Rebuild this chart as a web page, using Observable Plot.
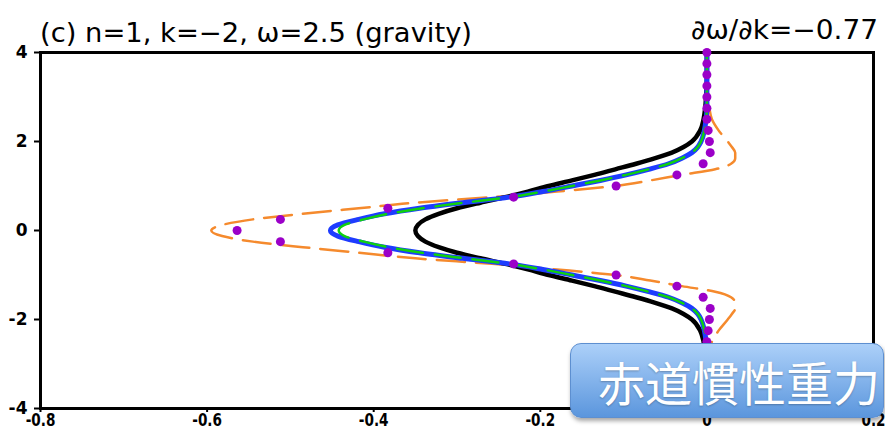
<!DOCTYPE html>
<html><head><meta charset="utf-8">
<script src="https://cdn.jsdelivr.net/npm/d3@7"></script>
<script src="https://cdn.jsdelivr.net/npm/@observablehq/plot@0.6"></script>
<style>
body{margin:0;background:#fff;}
#wrap{position:relative;width:885px;height:441px;overflow:hidden;}
#badge{position:absolute;left:570px;top:343px;width:314px;height:75px;box-sizing:border-box;border-radius:11px;border:1px solid #5d8fd0;background:linear-gradient(#acd0f9,#5b96dd);box-shadow:1px 3px 4px rgba(0,0,0,0.35);color:#fff;font-family:"Noto Sans CJK JP";font-size:47px;line-height:73px;padding-left:27px;white-space:nowrap;text-shadow:0 1px 2px rgba(0,0,0,0.25);}
</style></head><body><div id="wrap"></div>
<script>
const titleLeft = "(c) n=1, k=\u22122, \u03c9=2.5 (gravity)";
const titleRight = "\u2202\u03c9/\u2202k=\u22120.77";
const badgeText = "赤道慣性重力";
const xTicks = [-0.8, -0.6, -0.4, -0.2, 0, 0.2];
const yTicks = [-4, -2, 0, 2, 4];

const yGrid = [-4,-3.5,-3,-2.75,-2.5,-2.25,-2,-1.875,-1.75,-1.625,-1.5,-1.375,-1.25,-1.125,-1,-0.875,-0.75,-0.625,-0.5,-0.375,-0.25,-0.125,0,0.125,0.25,0.375,0.5,0.625,0.75,0.875,1,1.125,1.25,1.375,1.5,1.625,1.75,1.875,2,2.25,2.5,2.75,3,3.5,4];
const blackX = [0,0,-0.001,-0.002,-0.004,-0.008,-0.018,-0.028,-0.042,-0.062,-0.085,-0.110,-0.135,-0.162,-0.190,-0.215,-0.242,-0.272,-0.300,-0.322,-0.338,-0.347,-0.350,-0.347,-0.338,-0.322,-0.300,-0.272,-0.242,-0.215,-0.190,-0.162,-0.135,-0.110,-0.085,-0.062,-0.042,-0.028,-0.018,-0.008,-0.004,-0.002,-0.001,0,0];
const blueX = [0,0,0,0,-0.001,-0.003,-0.007,-0.011,-0.018,-0.030,-0.046,-0.070,-0.097,-0.128,-0.162,-0.197,-0.237,-0.293,-0.345,-0.387,-0.418,-0.443,-0.452,-0.443,-0.418,-0.387,-0.345,-0.293,-0.237,-0.197,-0.162,-0.128,-0.097,-0.070,-0.046,-0.030,-0.018,-0.011,-0.007,-0.003,-0.001,0,0,0,0];
const greenX = [0,0,0,0,-0.001,-0.003,-0.007,-0.011,-0.018,-0.030,-0.046,-0.070,-0.097,-0.128,-0.162,-0.197,-0.237,-0.291,-0.342,-0.382,-0.412,-0.435,-0.442,-0.435,-0.412,-0.382,-0.342,-0.291,-0.237,-0.197,-0.162,-0.128,-0.097,-0.070,-0.046,-0.030,-0.018,-0.011,-0.007,-0.003,-0.001,0,0,0,0];
const orangeX = [0,0,0.001,0.003,0.006,0.014,0.025,0.030,0.034,0.034,0.029,0.010,-0.030,-0.068,-0.110,-0.180,-0.258,-0.350,-0.418,-0.485,-0.545,-0.582,-0.595,-0.582,-0.545,-0.485,-0.418,-0.350,-0.258,-0.180,-0.110,-0.068,-0.030,0.010,0.029,0.034,0.034,0.030,0.025,0.014,0.006,0.003,0.001,0,0];
const dotY = [-4,-3.75,-3.5,-3.25,-3,-2.75,-2.5,-2.25,-2,-1.75,-1.5,-1.25,-1,-0.75,-0.5,-0.25,0,0.25,0.5,0.75,1,1.25,1.5,1.75,2,2.25,2.5,2.75,3,3.25,3.5,3.75,4];
const dotX = [0,0,0,0,0,0,0,0.0015,0.003,0.004,-0.0045,-0.036,-0.109,-0.232,-0.383,-0.512,-0.564,-0.512,-0.383,-0.232,-0.109,-0.036,-0.0045,0.004,0.003,0.0015,0,0,0,0,0,0,0];

const toRows = (xs, ys) => ys.map((y, i) => ({x: xs[i], y}));
const fmt = d => (d < 0 ? "-" : "") + Math.abs(d);

const chart = Plot.plot({
  width: 885, height: 441,
  marginLeft: 40, marginRight: 12, marginTop: 52, marginBottom: 33,
  style: {fontFamily: "DejaVu Sans", fontSize: "16px", fontWeight: "bold", background: "white", overflow: "visible"},
  x: {domain: [-0.8, 0.2], label: null},
  y: {domain: [-4, 4], label: null},
  marks: [
    Plot.axisX({ticks: xTicks, tickSize: 4, tickPadding: 1, tickFormat: fmt, strokeWidth: 2, fontSize: 16, fontWeight: "bold", fill: "black", label: null}),
    Plot.axisY({ticks: yTicks, tickSize: 6, tickPadding: 7, tickFormat: fmt, strokeWidth: 2, fontSize: 16, fontWeight: "bold", fill: "black", label: null}),
    Plot.frame({strokeWidth: 3, stroke: "black"}),
    Plot.line(toRows(orangeX, yGrid), {x: "x", y: "y", stroke: "#f58a2d", strokeWidth: 2.5, strokeDasharray: "28,11", curve: "monotone-y"}),
    Plot.line(toRows(blackX, yGrid), {x: "x", y: "y", stroke: "black", strokeWidth: 4.5, curve: "monotone-y"}),
    Plot.line(toRows(blueX, yGrid), {x: "x", y: "y", stroke: "#1e3cff", strokeWidth: 5, curve: "monotone-y"}),
    Plot.line(toRows(greenX, yGrid), {x: "x", y: "y", stroke: "#10d010", strokeWidth: 2.5, strokeDasharray: "26,12", curve: "monotone-y"}),
    Plot.dot(toRows(dotX, dotY), {x: "x", y: "y", r: 4.5, fill: "#9b00c8", stroke: "none"})
  ]
});

const wrap = document.getElementById("wrap");
wrap.appendChild(chart);
const svg = d3.select(chart);
svg.append("text").attr("x", 40).attr("y", 42).attr("text-anchor", "start")
  .attr("font-family", "DejaVu Sans").attr("font-size", 27).attr("font-weight", "normal")
  .attr("textLength", 432).attr("lengthAdjust", "spacingAndGlyphs").attr("fill", "black")
  .text(titleLeft);
svg.append("text").attr("x", 691).attr("y", 39).attr("text-anchor", "start")
  .attr("font-family", "DejaVu Sans").attr("font-size", 27).attr("font-weight", "normal")
  .attr("textLength", 187).attr("lengthAdjust", "spacingAndGlyphs").attr("fill", "black")
  .text(titleRight);
svg.selectAll('g[aria-label="x-axis tick label"] text, g[aria-label="y-axis tick label"] text')
  .style("font-size", "17px").style("font-weight", "bold");
svg.selectAll('g[aria-label="x-axis tick label"] text').each(function () {
  const w = this.getComputedTextLength();
  this.setAttribute("textLength", w * 0.8);
  this.setAttribute("lengthAdjust", "spacingAndGlyphs");
});

const badge = document.createElement("div");
badge.id = "badge";
badge.textContent = badgeText;
wrap.appendChild(badge);
</script></body></html>
